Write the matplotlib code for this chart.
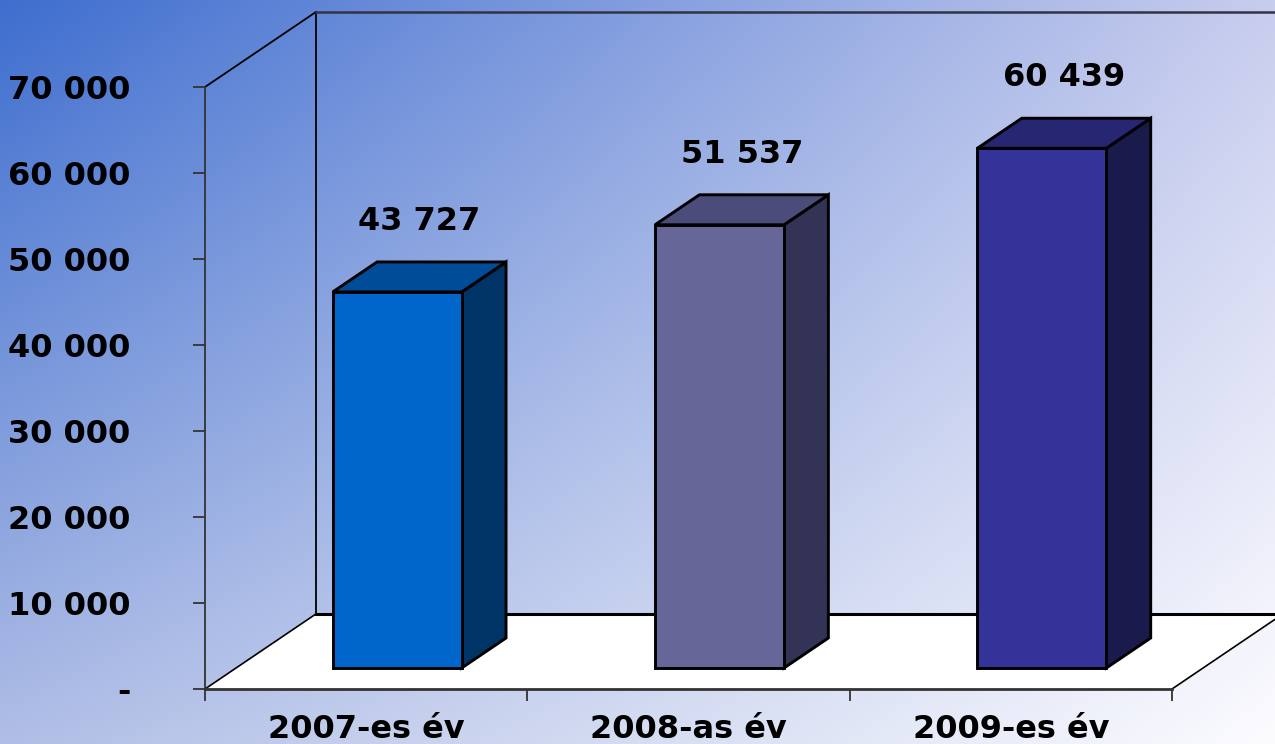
import numpy as np
import matplotlib
matplotlib.use("Agg")
import matplotlib.pyplot as plt
from matplotlib.patches import Polygon
from matplotlib.ticker import FuncFormatter, FixedLocator

years = ["2007-es év", "2008-as év", "2009-es év"]
values = [43727, 51537, 60439]
front_colors = ["#0066CC", "#666699", "#333399"]
top_colors = ["#004C99", "#4C4C7A", "#262673"]
side_colors = ["#003366", "#333355", "#1A1A4D"]
yticks = [0, 10000, 20000, 30000, 40000, 50000, 60000, 70000]

plt.rcParams["font.family"] = "DejaVu Sans"
plt.rcParams["font.weight"] = "bold"
FS = 23

fig = plt.figure(figsize=(12.75, 7.44), dpi=100)

# background gradient (bilinear from four corners)
bg = fig.add_axes([0, 0, 1, 1], zorder=0)
tl = np.array([62, 110, 207]) / 255
tr = np.array([200, 205, 238]) / 255
bl = np.array([176, 190, 230]) / 255
br = np.array([252, 252, 255]) / 255
h, w = 186, 320
yy, xx = np.mgrid[0:1:h * 1j, 0:1:w * 1j]
yy = yy[..., None]
xx = xx[..., None]
img = (1 - yy) * ((1 - xx) * tl + xx * tr) + yy * ((1 - xx) * bl + xx * br)
bg.imshow(img, extent=[0, 1, 0, 1], aspect="auto", interpolation="bilinear")
bg.set_axis_off()

ax = fig.add_axes([205 / 1275, 55 / 744, 967 / 1275, 602 / 744], zorder=1)
ax.patch.set_alpha(0)
ax.set_xlim(0, 3)
ax.set_ylim(0, 70000)

# depth of the 3d box in data units
DX = 0.344
DY = 8720
d0, d1 = 0.28, 0.68
top = yticks[-1]

# floor
floor = Polygon([(0, 0), (3, 0), (3 + DX, DY), (DX, DY)], closed=True,
                facecolor="white", edgecolor="none", zorder=0.5, clip_on=False)
ax.add_patch(floor)
ax.plot([0, DX], [0, DY], color="black", lw=1.2, clip_on=False, zorder=0.6)
ax.plot([3, 3 + DX], [0, DY], color="black", lw=1.2, clip_on=False, zorder=0.6)
ax.plot([DX, 3 + DX], [DY, DY], color="black", lw=2.2, clip_on=False, zorder=0.6)
# walls
ax.plot([DX, DX], [DY, top + DY], color="black", lw=1.3, clip_on=False, zorder=0.6)
ax.plot([0, DX], [top, top + DY], color="black", lw=1.3, clip_on=False, zorder=0.6)
ax.plot([DX, 3 + DX], [top + DY, top + DY], color="#333344", lw=1.8, clip_on=False, zorder=0.6)

sdx = (d1 - d0) * DX
sdy = (d1 - d0) * DY
for i, v in enumerate(values):
    c = i + 0.5
    xl = c - 0.2 + d0 * DX
    xr = xl + 0.4
    yb = d0 * DY
    yt = yb + v
    front = [(xl, yb), (xr, yb), (xr, yt), (xl, yt)]
    side = [(xr, yb), (xr + sdx, yb + sdy), (xr + sdx, yt + sdy), (xr, yt)]
    topf = [(xl, yt), (xr, yt), (xr + sdx, yt + sdy), (xl + sdx, yt + sdy)]
    for pts, col in [(side, side_colors[i]), (topf, top_colors[i]), (front, front_colors[i])]:
        ax.add_patch(Polygon(pts, closed=True, facecolor=col, edgecolor="black",
                             lw=2.1, joinstyle="miter", zorder=2, clip_on=False))
    ax.annotate(f"{v:,}".replace(",", " "), (c + (d0 + d1) / 2 * DX, yt + sdy),
                xytext=(0, 29), textcoords="offset points", ha="center", va="center",
                fontsize=FS, fontweight="bold", annotation_clip=False)

ax.spines["top"].set_visible(False)
ax.spines["right"].set_visible(False)
ax.spines["left"].set_color("#333333")
ax.spines["left"].set_linewidth(1.3)
ax.spines["bottom"].set_color("#333333")
ax.spines["bottom"].set_linewidth(2)
ax.spines["bottom"].set_zorder(3)

ax.yaxis.set_major_locator(FixedLocator(yticks))
ax.yaxis.set_major_formatter(FuncFormatter(lambda v, p: "-" if v == 0 else f"{int(v):,}".replace(",", " ")))
ax.tick_params(axis="y", direction="out", length=8.6, width=1.3, color="#333333",
               pad=45, labelsize=FS)

ax.xaxis.set_major_locator(FixedLocator([0, 1, 2, 3]))
ax.xaxis.set_major_formatter(FuncFormatter(lambda v, p: ""))
ax.xaxis.set_minor_locator(FixedLocator([0.5, 1.5, 2.5]))
ax.xaxis.set_minor_formatter(FuncFormatter(lambda v, p: years[int(v)]))
ax.tick_params(axis="x", which="major", direction="out", length=8.6, width=1.3, color="#333333")
ax.tick_params(axis="x", which="minor", length=0, pad=18, labelsize=FS)
for lab in ax.get_xticklabels(minor=True) + ax.get_yticklabels():
    lab.set_fontweight("bold")

fig.savefig("out.png", dpi=100)
